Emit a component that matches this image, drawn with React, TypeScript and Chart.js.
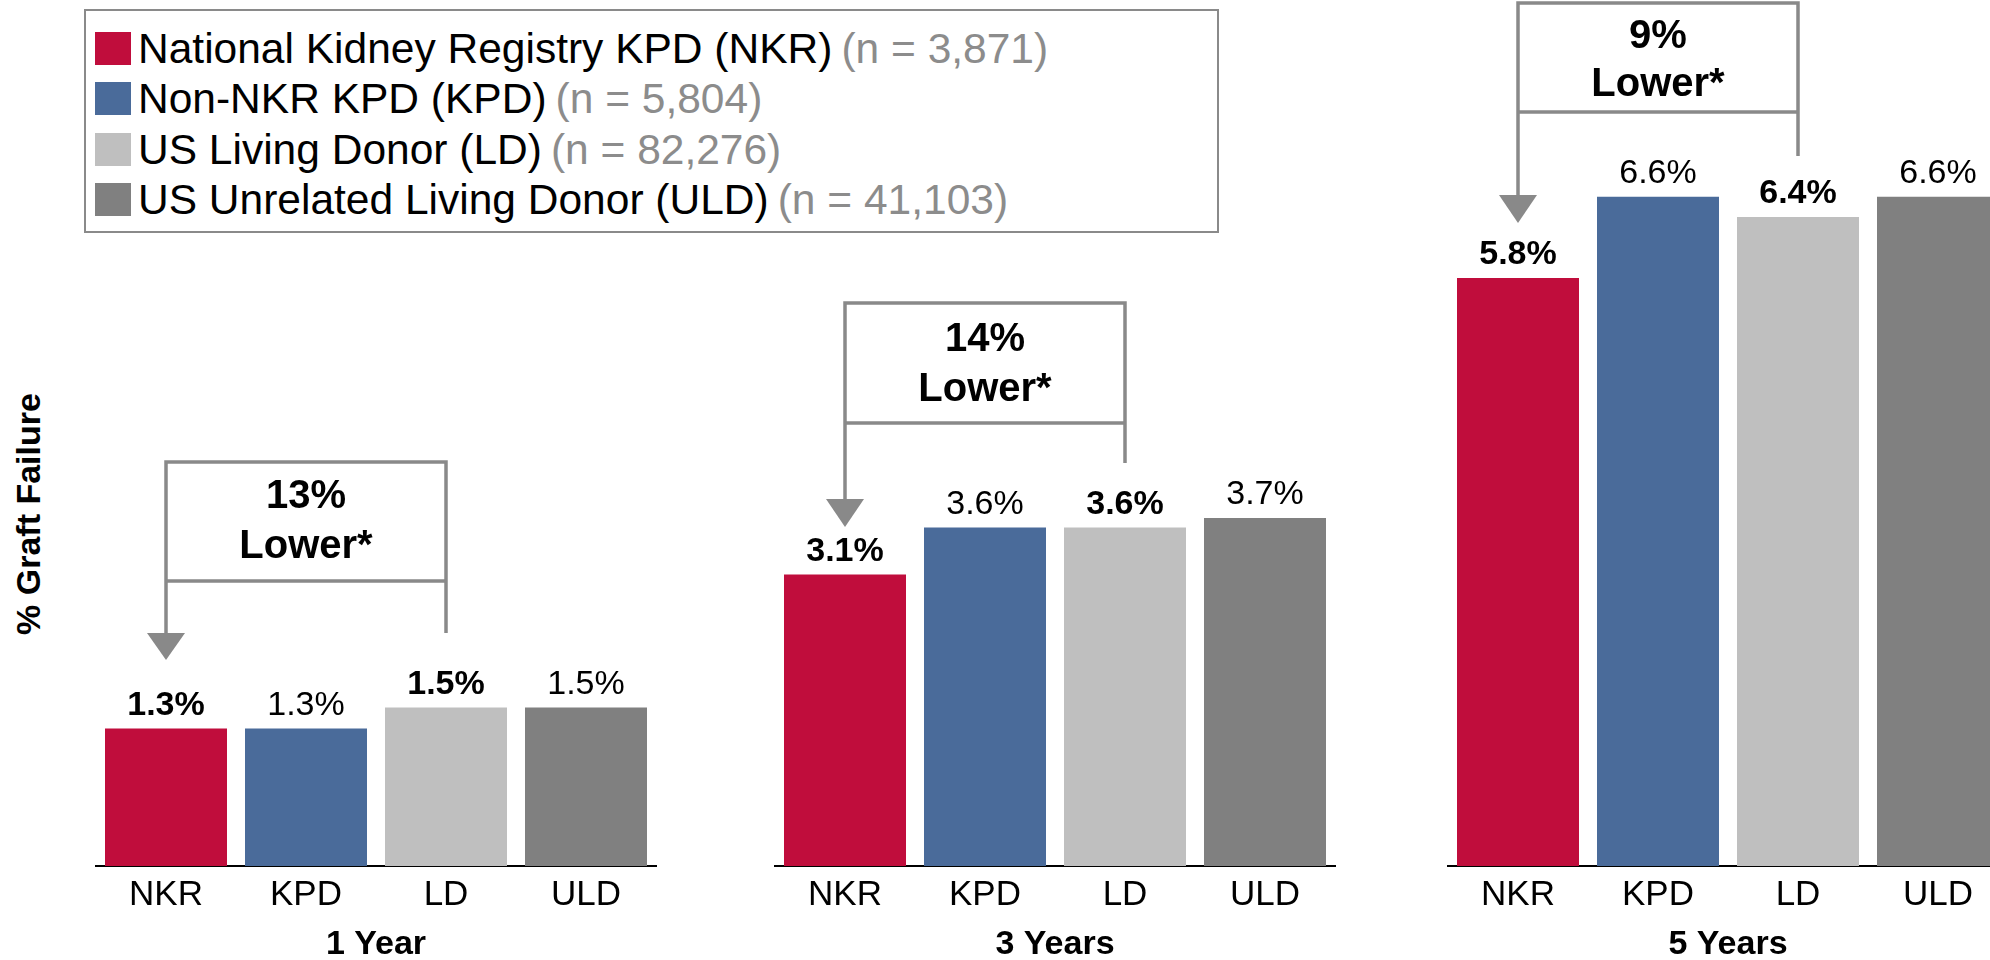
import React, { useEffect, useRef } from "react";
import { Chart, registerables } from "chart.js";

Chart.register(...registerables);

// ---------- data ----------
const categories = ["NKR", "KPD", "LD", "ULD"];
const seriesNames = [
  "National Kidney Registry KPD (NKR)",
  "Non-NKR KPD (KPD)",
  "US Living Donor (LD)",
  "US Unrelated Living Donor (ULD)",
];
const seriesCounts = ["(n = 3,871)", "(n = 5,804)", "(n = 82,276)", "(n = 41,103)"];
const periods = ["1 Year", "3 Years", "5 Years"];
const year1Values = [1.3, 1.3, 1.5, 1.5];
const year3Values = [3.1, 3.6, 3.6, 3.7];
const year5Values = [5.8, 6.6, 6.4, 6.6];
const reductionLabels = ["13%", "14%", "9%"];
const reductionSuffix = "Lower*";
const yAxisTitle = "% Graft Failure";

// ---------- styles ----------
const FONT = '"Liberation Sans", Arial, Helvetica, sans-serif';
const barColors = ["#C00D3C", "#4A6B9A", "#BFBFBF", "#808080"];
const boldLabel = [true, false, true, false];
const BRACKET_COLOR = "#898989";
const CANVAS_H = 1000;
const BASELINE = 866;

type Ann = {
  top: number;
  boxBottom: number;
  rightEnd: number;
  arrowTop: number;
  arrowTip: number;
  text1Y: number;
  text2Y: number;
};

const panels = [
  {
    values: year1Values,
    period: periods[0],
    reduction: reductionLabels[0],
    left: 60,
    width: 640,
    padLeft: 36,
    padRight: 44,
    pxPerUnit: 105.7,
    ann: { top: 462, boxBottom: 581, rightEnd: 633, arrowTop: 633, arrowTip: 660, text1Y: 497, text2Y: 547 },
  },
  {
    values: year3Values,
    period: periods[1],
    reduction: reductionLabels[1],
    left: 720,
    width: 680,
    padLeft: 55,
    padRight: 65,
    pxPerUnit: 94.05,
    ann: { top: 303, boxBottom: 423, rightEnd: 463, arrowTop: 499, arrowTip: 527, text1Y: 340, text2Y: 390 },
  },
  {
    values: year5Values,
    period: periods[2],
    reduction: reductionLabels[2],
    left: 1400,
    width: 660,
    padLeft: 48,
    padRight: 52,
    pxPerUnit: 101.4,
    ann: { top: 3, boxBottom: 112, rightEnd: 156, arrowTop: 195, arrowTip: 223, text1Y: 37, text2Y: 85 },
  },
];

const valueLabelPlugin = {
  id: "valueLabels",
  afterDatasetsDraw(chart: any) {
    const ctx = chart.ctx;
    const meta = chart.getDatasetMeta(0);
    const data = chart.data.datasets[0].data as number[];
    ctx.save();
    ctx.fillStyle = "#000";
    ctx.textAlign = "center";
    ctx.textBaseline = "middle";
    meta.data.forEach((bar: any, i: number) => {
      ctx.font = `${boldLabel[i] ? "bold " : ""}34px ${FONT}`;
      ctx.fillText(`${data[i].toFixed(1)}%`, bar.x, bar.y - 23);
    });
    ctx.restore();
  },
};

function bracketPlugin(ann: Ann, reduction: string) {
  return {
    id: "bracket",
    afterDatasetsDraw(chart: any) {
      const ctx = chart.ctx;
      const meta = chart.getDatasetMeta(0);
      const xl = meta.data[0].x;
      const xr = meta.data[2].x;
      ctx.save();
      ctx.strokeStyle = BRACKET_COLOR;
      ctx.fillStyle = BRACKET_COLOR;
      ctx.lineWidth = 3.5;
      ctx.lineCap = "butt";
      ctx.beginPath();
      ctx.moveTo(xl, ann.top);
      ctx.lineTo(xr, ann.top);
      ctx.moveTo(xl, ann.boxBottom);
      ctx.lineTo(xr, ann.boxBottom);
      ctx.moveTo(xl, ann.top - 1.75);
      ctx.lineTo(xl, ann.arrowTop + 1);
      ctx.moveTo(xr, ann.top - 1.75);
      ctx.lineTo(xr, ann.rightEnd);
      ctx.stroke();
      ctx.beginPath();
      ctx.moveTo(xl - 19, ann.arrowTop);
      ctx.lineTo(xl + 19, ann.arrowTop);
      ctx.lineTo(xl, ann.arrowTip);
      ctx.closePath();
      ctx.fill();
      ctx.fillStyle = "#000";
      ctx.textAlign = "center";
      ctx.textBaseline = "middle";
      ctx.font = `bold 40px ${FONT}`;
      const cx = (xl + xr) / 2;
      ctx.fillText(reduction, cx, ann.text1Y);
      ctx.fillText(reductionSuffix, cx, ann.text2Y);
      ctx.restore();
    },
  };
}

function Panel(props: (typeof panels)[number]) {
  const ref = useRef<HTMLCanvasElement | null>(null);
  useEffect(() => {
    if (!ref.current) return;
    const yMax = BASELINE / props.pxPerUnit;
    const chart = new Chart(ref.current, {
      type: "bar",
      data: {
        labels: categories,
        datasets: [
          {
            data: props.values,
            backgroundColor: barColors,
            borderWidth: 0,
            categoryPercentage: 1,
            barPercentage: 122 / 140,
          },
        ],
      },
      options: {
        animation: false,
        responsive: false,
        maintainAspectRatio: false,
        layout: { padding: { left: props.padLeft, right: props.padRight, top: 0, bottom: 0 } },
        plugins: { legend: { display: false }, tooltip: { enabled: false } },
        scales: {
          y: { display: false, min: 0, max: yMax },
          x: {
            grid: { display: false, drawTicks: false },
            border: { display: true, color: "#000", width: 2 },
            ticks: { color: "#000", font: { family: FONT, size: 35 }, padding: 8 },
            title: {
              display: true,
              text: props.period,
              color: "#000",
              font: { family: FONT, size: 34, weight: "bold" },
              padding: { top: 0, bottom: CANVAS_H - 945 - 20.4 },
            },
            afterFit: (scale: any) => {
              scale.height = CANVAS_H - BASELINE;
            },
          },
        },
      },
      plugins: [valueLabelPlugin, bracketPlugin(props.ann, props.reduction)],
    } as any);
    return () => chart.destroy();
  }, []);
  return (
    <canvas
      ref={ref}
      width={props.width}
      height={CANVAS_H}
      style={{ position: "absolute", left: props.left, top: 0, display: "block" }}
    />
  );
}

function Legend() {
  const rowTops = [30, 80, 131, 181];
  return (
    <div
      style={{
        position: "absolute",
        left: 84,
        top: 9,
        width: 1135,
        height: 224,
        boxSizing: "border-box",
        border: "2px solid #8a8a8a",
        background: "#fff",
      }}
    >
      {seriesNames.map((name, i) => (
        <div
          key={name}
          style={{
            position: "absolute",
            left: 9,
            top: rowTops[i] - 9,
            height: 33,
            display: "flex",
            alignItems: "center",
            whiteSpace: "nowrap",
            fontFamily: FONT,
            fontSize: 42.5,
            lineHeight: "33px",
          }}
        >
          <span style={{ display: "inline-block", width: 36, height: 33, background: barColors[i], marginRight: 7 }} />
          <span style={{ color: "#000" }}>{name}</span>
          <span style={{ color: "#8c8c8c", marginLeft: 9 }}>{seriesCounts[i]}</span>
        </div>
      ))}
    </div>
  );
}

export default function App() {
  return (
    <div
      style={{
        position: "fixed",
        left: 0,
        top: 0,
        width: 1990,
        height: 960,
        overflow: "hidden",
        background: "#fff",
      }}
    >
      {panels.map((p) => (
        <Panel key={p.period} {...p} />
      ))}
      <Legend />
      <div
        style={{
          position: "absolute",
          left: 28,
          top: 514,
          transform: "translate(-50%, -50%) rotate(-90deg)",
          fontFamily: FONT,
          fontWeight: "bold",
          fontSize: 34,
          whiteSpace: "nowrap",
          color: "#000",
        }}
      >
        {yAxisTitle}
      </div>
    </div>
  );
}
